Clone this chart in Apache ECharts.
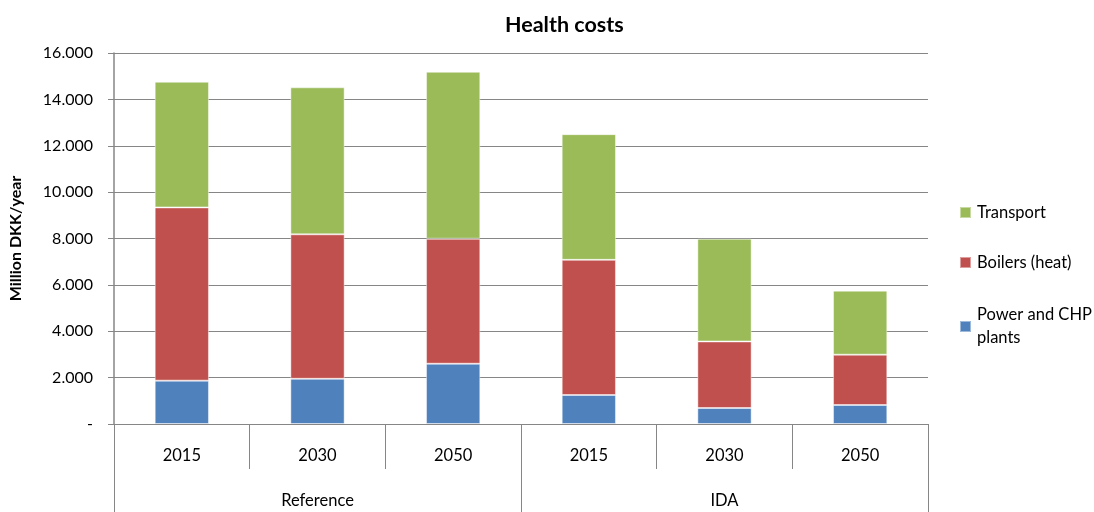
<!DOCTYPE html>
<html>
<head>
<meta charset="utf-8">
<script src="https://cdn.jsdelivr.net/npm/echarts@6/dist/echarts.min.js"></script>
<style>html,body{margin:0;padding:0;background:#fff}#c{width:1094px;height:512px}</style>
</head>
<body>
<div id="c"></div>
<script>
var years = ['2015', '2030', '2050', '2015', '2030', '2050'];
var groups = ['Reference', 'IDA'];
var powerCHP = [1870, 1950, 2600, 1250, 690, 820];
var boilers = [7470, 6230, 5390, 5830, 2870, 2170];
var transport = [5420, 6340, 7200, 5420, 4430, 2760];
var yTicks = { min: 0, max: 16000, interval: 2000 };

var FONT = 'Lato, "Open Sans", sans-serif';
var GRAY = '#868686';
var chart = echarts.init(document.getElementById('c'));

function fmt(v) {
  if (v === 0) return '-';
  var s = String(v);
  return s.slice(0, s.length - 3) + '.' + s.slice(s.length - 3);
}

var barStyle = function (c) {
  return { color: c, borderColor: 'rgba(255,255,255,0.45)', borderWidth: 1 };
};

chart.setOption({
  animation: false,
  textStyle: { fontFamily: FONT },
  title: {
    text: 'Health costs',
    left: 500, top: 9,
    textStyle: { fontFamily: FONT, fontSize: 21.5, fontWeight: 'bold', color: '#000' }
  },
  legend: [
    {
      data: ['Transport', 'Boilers (heat)'],
      orient: 'vertical', left: 954, top: 199, itemGap: 33,
      itemWidth: 11, itemHeight: 11, icon: 'rect',
      textStyle: { fontFamily: FONT, fontSize: 16.5, color: '#000', padding: [0, 0, 0, 1] }
    },
    {
      data: ['Power and CHP plants'],
      orient: 'vertical', left: 954, top: 287,
      itemWidth: 11, itemHeight: 11, icon: 'rect',
      formatter: function (n) { return 'Power and CHP\nplants'; },
      textStyle: { fontFamily: FONT, fontSize: 16.5, color: '#000', lineHeight: 23, padding: [23, 0, 0, 1] }
    }
  ],
  grid: { left: 114, right: 166, top: 53, bottom: 88, containLabel: false },
  xAxis: [
    {
      type: 'category', data: years, position: 'bottom',
      axisLine: { show: true, lineStyle: { color: GRAY, width: 1 } },
      axisTick: { show: true, length: 45, lineStyle: { color: GRAY } },
      axisLabel: { margin: 23, fontFamily: FONT, fontSize: 16.5, color: '#000' },
      splitLine: { show: false }
    },
    {
      type: 'category', data: groups, position: 'bottom',
      axisLine: { show: false },
      axisTick: { show: true, length: 90, lineStyle: { color: GRAY } },
      axisLabel: { margin: 68, fontFamily: FONT, fontSize: 16.5, color: '#000' },
      splitLine: { show: false }
    }
  ],
  yAxis: {
    type: 'value', min: yTicks.min, max: yTicks.max, interval: yTicks.interval,
    name: 'Million DKK/year', nameLocation: 'middle', nameGap: 90, nameRotate: 90,
    nameTextStyle: { fontFamily: FONT, fontSize: 16, fontWeight: 'bold', color: '#000' },
    axisLine: { show: true, lineStyle: { color: GRAY, width: 1.5 } },
    axisTick: { show: true, length: 6, lineStyle: { color: GRAY } },
    axisLabel: { margin: 21, fontFamily: FONT, fontSize: 16, color: '#000', formatter: fmt },
    splitLine: { show: true, lineStyle: { color: GRAY, width: 1.2 } }
  },
  series: [
    { name: 'Power and CHP plants', type: 'bar', stack: 'a', data: powerCHP, barWidth: '40%', itemStyle: barStyle('#4F81BD') },
    { name: 'Boilers (heat)', type: 'bar', stack: 'a', data: boilers, barWidth: '40%', itemStyle: barStyle('#C0504D') },
    { name: 'Transport', type: 'bar', stack: 'a', data: transport, barWidth: '40%', itemStyle: barStyle('#9BBB59') }
  ]
});
</script>
</body>
</html>
